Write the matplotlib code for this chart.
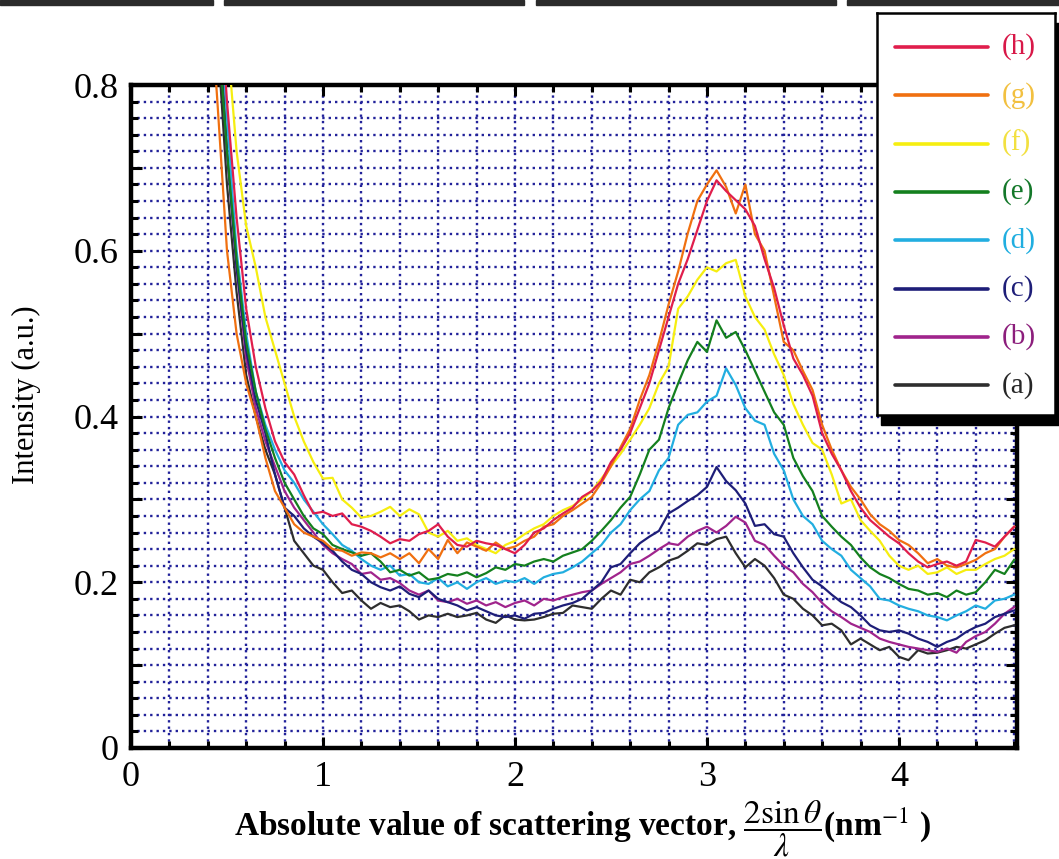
import matplotlib
matplotlib.use("Agg")
import matplotlib.pyplot as plt
from matplotlib.patches import Rectangle
from matplotlib.ticker import MultipleLocator, FuncFormatter
import numpy as np

plt.rcParams['font.family'] = ['Liberation Serif', 'DejaVu Serif']
plt.rcParams['mathtext.fontset'] = 'stix'

# Scattering vector samples (nm^-1), 0.40 .. 4.60
q = np.round(np.arange(0.40, 4.601, 0.05), 2)

# Intensity traces (a.u.)
int_a = [1.00, 0.86, 0.68, 0.55, 0.45, 0.40, 0.36, 0.33, 0.29, 0.25,
         0.235, 0.22, 0.215, 0.20, 0.187, 0.19, 0.178, 0.168, 0.175, 0.17,
         0.172, 0.165, 0.155, 0.16, 0.158, 0.162, 0.158, 0.16, 0.163, 0.155,
         0.151, 0.16, 0.155, 0.154, 0.155, 0.158, 0.162, 0.163, 0.172, 0.17,
         0.168, 0.18, 0.19, 0.185, 0.203, 0.20, 0.212, 0.218, 0.226, 0.23,
         0.238, 0.247, 0.245, 0.252, 0.255, 0.235, 0.218, 0.228, 0.22, 0.205,
         0.185, 0.18, 0.168, 0.16, 0.148, 0.15, 0.142, 0.125, 0.132, 0.125,
         0.118, 0.122, 0.11, 0.106, 0.118, 0.114, 0.115, 0.118, 0.122, 0.12,
         0.125, 0.13, 0.138, 0.145, 0.148]
int_b = [1.00, 0.92, 0.72, 0.58, 0.47, 0.41, 0.37, 0.34, 0.31, 0.29,
         0.275, 0.26, 0.245, 0.235, 0.228, 0.222, 0.21, 0.212, 0.203, 0.205,
         0.199, 0.19, 0.185, 0.19, 0.178, 0.176, 0.18, 0.174, 0.178, 0.172,
         0.176, 0.17, 0.175, 0.178, 0.172, 0.18, 0.178, 0.182, 0.185, 0.188,
         0.19, 0.198, 0.205, 0.212, 0.222, 0.225, 0.232, 0.24, 0.247, 0.245,
         0.255, 0.262, 0.267, 0.26, 0.268, 0.279, 0.272, 0.25, 0.245, 0.232,
         0.22, 0.212, 0.198, 0.188, 0.175, 0.165, 0.158, 0.15, 0.145, 0.14,
         0.132, 0.128, 0.125, 0.122, 0.12, 0.118, 0.116, 0.12, 0.115, 0.128,
         0.135, 0.14, 0.15, 0.162, 0.17]
int_c = [1.00, 0.90, 0.72, 0.58, 0.48, 0.42, 0.38, 0.33, 0.29, 0.28,
         0.265, 0.255, 0.247, 0.238, 0.225, 0.215, 0.21, 0.20, 0.194, 0.19,
         0.195, 0.186, 0.182, 0.19, 0.18, 0.176, 0.172, 0.166, 0.17, 0.165,
         0.16, 0.158, 0.16, 0.156, 0.162, 0.163, 0.168, 0.172, 0.175, 0.18,
         0.19, 0.20, 0.218, 0.222, 0.235, 0.247, 0.255, 0.262, 0.283, 0.29,
         0.298, 0.305, 0.315, 0.339, 0.322, 0.311, 0.295, 0.268, 0.27, 0.258,
         0.255, 0.235, 0.218, 0.203, 0.195, 0.185, 0.176, 0.17, 0.16, 0.148,
         0.142, 0.14, 0.142, 0.138, 0.132, 0.128, 0.122, 0.128, 0.132, 0.14,
         0.146, 0.15, 0.158, 0.162, 0.166]
int_d = [1.00, 0.95, 0.76, 0.60, 0.50, 0.43, 0.39, 0.36, 0.335, 0.32,
         0.30, 0.285, 0.27, 0.258, 0.245, 0.238, 0.228, 0.22, 0.215, 0.22,
         0.208, 0.21, 0.20, 0.198, 0.205, 0.195, 0.20, 0.192, 0.20, 0.205,
         0.198, 0.202, 0.20, 0.205, 0.198, 0.206, 0.21, 0.212, 0.218, 0.225,
         0.235, 0.245, 0.26, 0.27, 0.287, 0.30, 0.31, 0.335, 0.35, 0.39,
         0.402, 0.405, 0.418, 0.425, 0.458, 0.438, 0.41, 0.395, 0.39, 0.355,
         0.335, 0.30, 0.28, 0.27, 0.25, 0.24, 0.232, 0.215, 0.205, 0.195,
         0.18, 0.178, 0.172, 0.168, 0.165, 0.16, 0.158, 0.154, 0.16, 0.165,
         0.172, 0.168, 0.178, 0.18, 0.185]
int_e = [1.00, 0.88, 0.72, 0.59, 0.49, 0.43, 0.385, 0.35, 0.32, 0.30,
         0.28, 0.265, 0.258, 0.245, 0.24, 0.236, 0.232, 0.235, 0.225, 0.212,
         0.215, 0.208, 0.212, 0.203, 0.205, 0.21, 0.208, 0.212, 0.206, 0.211,
         0.218, 0.215, 0.222, 0.22, 0.225, 0.228, 0.225, 0.232, 0.236, 0.24,
         0.25, 0.262, 0.275, 0.29, 0.303, 0.33, 0.36, 0.372, 0.41, 0.44,
         0.468, 0.49, 0.478, 0.516, 0.495, 0.502, 0.48, 0.455, 0.43, 0.405,
         0.39, 0.35, 0.328, 0.31, 0.28, 0.267, 0.255, 0.245, 0.23, 0.218,
         0.21, 0.205, 0.198, 0.192, 0.19, 0.185, 0.187, 0.182, 0.19, 0.185,
         0.188, 0.20, 0.215, 0.21, 0.227]
int_f = [1.00, 1.00, 0.86, 0.72, 0.63, 0.58, 0.52, 0.48, 0.44, 0.40,
         0.37, 0.345, 0.325, 0.326, 0.30, 0.29, 0.278, 0.28, 0.285, 0.291,
         0.28, 0.288, 0.282, 0.26, 0.255, 0.262, 0.25, 0.253, 0.245, 0.24,
         0.235, 0.245, 0.25, 0.258, 0.265, 0.27, 0.28, 0.287, 0.292, 0.30,
         0.31, 0.325, 0.34, 0.355, 0.372, 0.39, 0.41, 0.44, 0.46, 0.53,
         0.545, 0.565, 0.58, 0.575, 0.585, 0.589, 0.545, 0.52, 0.505, 0.475,
         0.45, 0.415, 0.39, 0.368, 0.36, 0.33, 0.295, 0.30, 0.275, 0.262,
         0.25, 0.232, 0.22, 0.215, 0.22, 0.21, 0.212, 0.218, 0.21, 0.215,
         0.215, 0.222, 0.228, 0.232, 0.24]
int_g = [0.95, 0.78, 0.60, 0.50, 0.44, 0.40, 0.35, 0.31, 0.29, 0.27,
         0.26, 0.255, 0.25, 0.24, 0.238, 0.232, 0.236, 0.235, 0.23, 0.235,
         0.228, 0.235, 0.223, 0.24, 0.228, 0.251, 0.235, 0.248, 0.243, 0.238,
         0.248, 0.24, 0.243, 0.25, 0.255, 0.267, 0.27, 0.28, 0.287, 0.295,
         0.303, 0.32, 0.34, 0.363, 0.385, 0.42, 0.45, 0.49, 0.535, 0.575,
         0.621, 0.66, 0.68, 0.697, 0.677, 0.645, 0.68, 0.62, 0.60, 0.545,
         0.49, 0.48, 0.455, 0.432, 0.39, 0.36, 0.335, 0.315, 0.30, 0.282,
         0.27, 0.262, 0.251, 0.245, 0.235, 0.223, 0.228, 0.22, 0.218, 0.222,
         0.227, 0.235, 0.24, 0.255, 0.267]
int_h = [1.00, 0.95, 0.78, 0.64, 0.53, 0.46, 0.41, 0.37, 0.345, 0.33,
         0.305, 0.283, 0.285, 0.28, 0.283, 0.27, 0.267, 0.262, 0.255, 0.247,
         0.252, 0.25, 0.258, 0.262, 0.27, 0.255, 0.245, 0.243, 0.25, 0.247,
         0.245, 0.24, 0.235, 0.245, 0.26, 0.265, 0.275, 0.283, 0.29, 0.303,
         0.31, 0.322, 0.345, 0.36, 0.38, 0.41, 0.44, 0.48, 0.52, 0.56,
         0.59, 0.625, 0.66, 0.685, 0.672, 0.661, 0.65, 0.63, 0.59, 0.555,
         0.51, 0.47, 0.45, 0.425, 0.38, 0.355, 0.335, 0.31, 0.29, 0.275,
         0.265, 0.255, 0.247, 0.235, 0.225, 0.218, 0.222, 0.225, 0.22, 0.225,
         0.251, 0.248, 0.243, 0.255, 0.267]

labels = ['(a)', '(b)', '(c)', '(d)', '(e)', '(f)', '(g)', '(h)']
series = [int_a, int_b, int_c, int_d, int_e, int_f, int_g, int_h]
line_colors = ['#2e2e2e', '#a0248c', '#1e1e78', '#22aee0', '#14801e', '#f6ee10', '#f07010', '#e01e4c']
text_colors = ['#262626', '#8c1e7c', '#1e1e78', '#20aee0', '#14782a', '#f2e040', '#f2c040', '#d81848']

W, H = 1059, 859
fig = plt.figure(figsize=(W / 100, H / 100), dpi=100)
ax = fig.add_axes([131 / W, 1 - 748 / H, 886 / W, 663 / H])

for vals, col in zip(series, line_colors):
    ax.plot(q, vals, color=col, lw=1.6, zorder=3)

ax.set_xlim(0, 4.615)
ax.set_ylim(0, 0.8)

# Axis ticks
ax.xaxis.set_major_locator(MultipleLocator(1))
ax.xaxis.set_minor_locator(MultipleLocator(0.2))
ax.yaxis.set_major_locator(MultipleLocator(0.1))
ax.yaxis.set_minor_locator(MultipleLocator(0.02))
ax.xaxis.set_major_formatter(FuncFormatter(lambda v, p: '%d' % round(v)))
ax.yaxis.set_major_formatter(FuncFormatter(
    lambda v, p: '' if round(v * 10) % 2 else ('0' if abs(v) < 1e-9 else '%.1f' % v)))
ax.tick_params(which='both', direction='in', top=True, right=True, width=2.2, labelsize=26)
ax.tick_params(which='major', length=8, pad=9)
ax.tick_params(which='minor', length=5)
for s in ax.spines.values():
    s.set_linewidth(3.2)

# Dotted grid
ax.grid(which='both', color='#22229a', lw=1.7, linestyle=(0, (1, 1.7)))
ax.set_axisbelow(True)

fig.text(26 / W, 1 - 395 / H, 'Intensity (a.u.)', rotation=90, fontsize=22,
         ha='center', va='center')
fig.text(234 / W, 1 - 836 / H,
         r'Absolute value of scattering vector, $\dfrac{2\sin\theta}{\lambda}$(nm$^{-1}$ )',
         fontsize=24, fontweight='bold', ha='left', va='baseline')

# Dark strips along the top edge of the scan
for x0, x1 in [(0, 213), (224, 524), (536, 836), (847, 1059)]:
    fig.patches.append(Rectangle((x0 / W, 1 - 5 / H), (x1 - x0) / W, 5 / H,
                                 transform=fig.transFigure, color='#2b2b2b', zorder=1))

# Legend box with drop shadow
fig.patches.append(Rectangle((881 / W, 1 - 425 / H), 178 / W, 402 / H,
                             transform=fig.transFigure, color='black', zorder=4))
lax = fig.add_axes([877 / W, 1 - 415 / H, 178 / W, 402 / H])
lax.set_zorder(5)
lax.set_xlim(0, 1)
lax.set_ylim(0, 1)
lax.set_xticks([])
lax.set_yticks([])
for s in lax.spines.values():
    s.set_linewidth(1.8)
for i, k in enumerate(range(7, -1, -1)):
    y = 1 - (34 + 48.3 * i) / 402
    lax.plot([0.10, 0.625], [y, y], color=line_colors[k], lw=2.6, solid_capstyle='round')
    lax.text(0.70, y, labels[k], color=text_colors[k], fontsize=21, va='center', ha='left')

plt.savefig('out.png', dpi=100)
